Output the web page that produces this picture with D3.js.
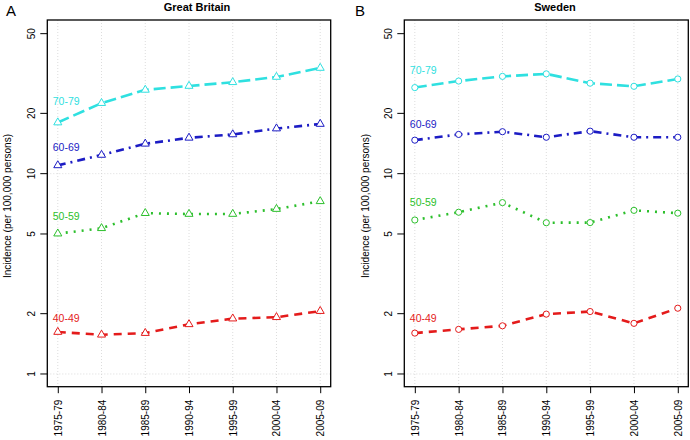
<!DOCTYPE html>
<html>
<head>
<meta charset="utf-8">
<script src="https://cdn.jsdelivr.net/npm/d3@7"></script>
<style>
  body { margin: 0; background: #fff; }
  svg { display: block; font-family: "Liberation Sans", Arial, sans-serif; }
</style>
</head>
<body>
<svg width="690" height="440"></svg>
<script>
// periods on the x axis
var periods = ["1975-79", "1980-84", "1985-89", "1990-94", "1995-99", "2000-04", "2005-09"];
var ageGroups = ["70-79", "60-69", "50-59", "40-49"];
var yTicks = [1, 2, 5, 10, 20, 50];
var gridLevels = [1, 10];

// Great Britain
var gb7079 = [18.0, 22.5, 26.2, 27.4, 28.6, 30.4, 33.7];
var gb6069 = [11.0, 12.4, 14.1, 15.1, 15.7, 16.8, 17.7];
var gb5059 = [5.02, 5.34, 6.35, 6.29, 6.29, 6.66, 7.28];
var gb4049 = [1.62, 1.57, 1.60, 1.77, 1.89, 1.92, 2.06];
var gbLabelAt = [23.1, 13.5, 6.15, 1.90];

// Sweden
var se7079 = [26.9, 29.0, 30.6, 31.5, 28.3, 27.3, 29.7];
var se6069 = [14.7, 15.7, 16.2, 15.2, 16.3, 15.2, 15.2];
var se5059 = [5.87, 6.42, 7.17, 5.69, 5.70, 6.56, 6.35];
var se4049 = [1.60, 1.67, 1.74, 1.99, 2.05, 1.79, 2.13];
var seLabelAt = [32.9, 17.7, 7.17, 1.89];

var colors = ["#2fe0e0", "#1c1cc4", "#2cbf2c", "#e41b1b"];
var dashes = ["12,5", "8,5,2,5", "2,6", "8,6"];

var svg = d3.select("svg");

function panel(opt) {
	var x = d3.scalePoint().domain(periods).range([opt.left, opt.right]).padding(0.24);
	var y = d3.scaleLog().domain([0.864, 58.5]).range([386.7, 20]);
	var g = svg.append("g");

	// grid
	g.selectAll(".vg").data(periods).enter().append("line")
		.attr("x1", function(d) { return x(d); }).attr("x2", function(d) { return x(d); })
		.attr("y1", 20).attr("y2", 386.7)
		.attr("stroke", "#d3d3d3").attr("stroke-width", 0.8).attr("stroke-dasharray", "1,2");
	g.selectAll(".hg").data(gridLevels).enter().append("line")
		.attr("x1", opt.left).attr("x2", opt.right)
		.attr("y1", function(d) { return y(d); }).attr("y2", function(d) { return y(d); })
		.attr("stroke", "#d3d3d3").attr("stroke-width", 0.8).attr("stroke-dasharray", "1,2");

	// axes
	var ya = g.append("g").attr("transform", "translate(" + opt.left + ",0)")
		.call(d3.axisLeft(y).tickValues(yTicks).tickFormat(d3.format("d")).tickSize(7).tickPadding(0));
	ya.select(".domain").remove();
	ya.selectAll("text").attr("x", null)
		.attr("text-anchor", "middle")
		.attr("transform", function(d) { return "translate(-15.5," + y(d) + ") rotate(-90)"; })
		.attr("y", 0).attr("dy", "0.35em");
	ya.selectAll(".tick").attr("transform", null);
	ya.selectAll(".tick line").attr("y1", function(d) { return y(d); }).attr("y2", function(d) { return y(d); });

	var xa = g.append("g").attr("transform", "translate(0,386.7)")
		.call(d3.axisBottom(x).tickSize(6.5));
	xa.select(".domain").remove();
	xa.selectAll("text").attr("y", 0).attr("dy", "0.35em")
		.attr("transform", "translate(0,13) rotate(-90)")
		.attr("text-anchor", "end");
	g.selectAll(".tick text").attr("font-size", 10).attr("font-family", "Liberation Sans, Arial, sans-serif").attr("fill", "#000");
	g.selectAll(".tick line").attr("stroke", "#000");

	// box
	g.append("rect").attr("x", opt.left).attr("y", 20)
		.attr("width", opt.right - opt.left).attr("height", 366.7)
		.attr("fill", "none").attr("stroke", "#000").attr("stroke-width", 1.3);

	var line = d3.line()
		.x(function(d, i) { return x(periods[i]); })
		.y(function(d) { return y(d); });

	opt.series.forEach(function(s, k) {
		g.append("path").datum(s).attr("d", line)
			.attr("fill", "none").attr("stroke", colors[k]).attr("stroke-width", 2.6)
			.attr("stroke-dasharray", dashes[k]);
		var sym = d3.symbol().type(opt.symbol).size(opt.symbol === d3.symbolTriangle ? 28 : 30);
		g.selectAll(".pt" + k).data(s).enter().append("path")
			.attr("d", sym)
			.attr("transform", function(d, i) { return "translate(" + x(periods[i]) + "," + y(d) + ")"; })
			.attr("fill", "#fff").attr("stroke", colors[k]).attr("stroke-width", 1);
		g.append("text").attr("x", x(periods[0]) - 5).attr("y", y(opt.labelAt[k]))
			.attr("dy", "0.35em").attr("font-size", 10.5).attr("fill", colors[k])
			.text(ageGroups[k]);
	});

	g.append("text").attr("x", opt.titleX).attr("y", 11).attr("text-anchor", "middle")
		.attr("font-size", 11).attr("font-weight", "bold").text(opt.title);
	g.append("text").attr("x", opt.letterX).attr("y", 15.5).attr("font-size", 15).text(opt.letter);
	g.append("text").attr("transform", "translate(" + opt.ylabX + ",206) rotate(-90)")
		.attr("text-anchor", "middle").attr("dy", "0.35em").attr("font-size", 10)
		.text("Incidence (per 100,000 persons)");
}

panel({ left: 47.3, right: 330.7, title: "Great Britain", titleX: 197, letter: "A", letterX: 6, ylabX: 7,
	series: [gb7079, gb6069, gb5059, gb4049], labelAt: gbLabelAt, symbol: d3.symbolTriangle });
panel({ left: 404.3, right: 688.3, title: "Sweden", titleX: 555, letter: "B", letterX: 355, ylabX: 365,
	series: [se7079, se6069, se5059, se4049], labelAt: seLabelAt, symbol: d3.symbolCircle });
</script>
</body>
</html>
